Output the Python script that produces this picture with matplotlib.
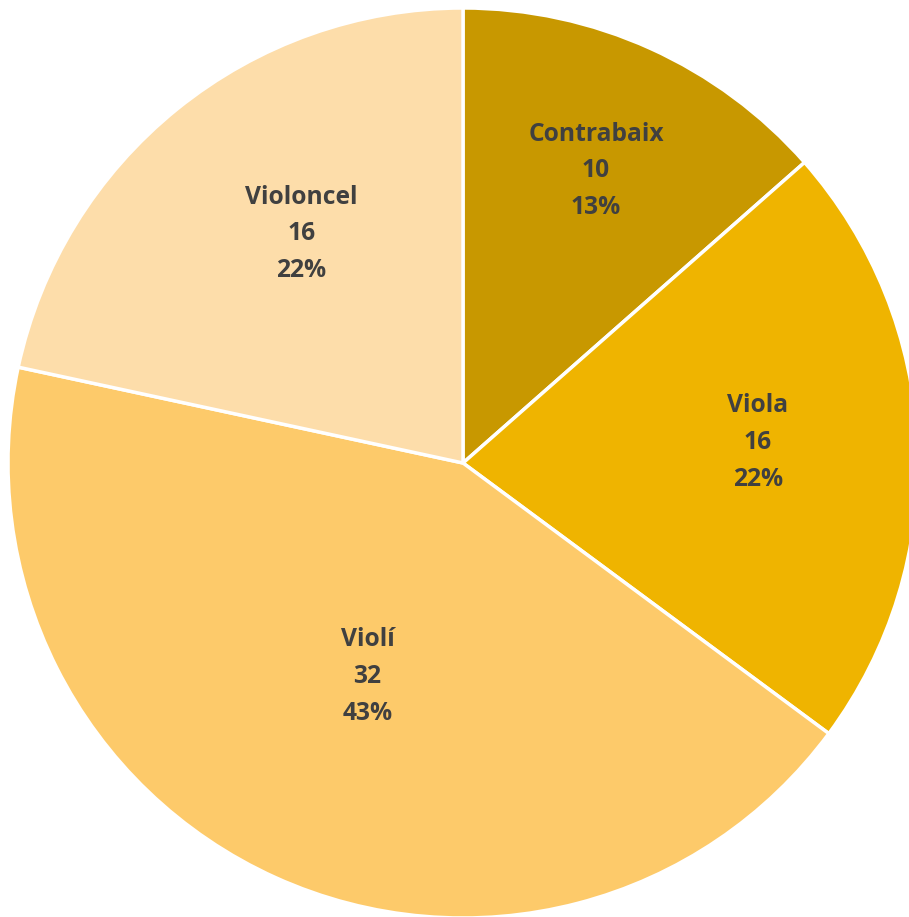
import numpy as np
import matplotlib.pyplot as plt

etiquetes = ['Contrabaix', 'Viola', 'Violí', 'Violoncel']
valors = [10, 16, 32, 16]
colors = ['#C89800', '#EFB400', '#FDCA6A', '#FDDDAA']
# posició de les etiquetes (fracció del radi, desviació d'angle en graus)
dist_etiqueta = [0.71, 0.65, 0.51, 0.62]
desv_angle = [0, 2, 0, -4]


def percentatges(vals):
    # arrodoniment per residu més gran (com fa Excel)
    v = np.array(vals, dtype=float)
    exacte = v / v.sum() * 100
    base = np.floor(exacte).astype(int)
    falta = 100 - base.sum()
    ordre = np.argsort(-(exacte - base))
    base[ordre[:falta]] += 1
    return base


fig = plt.figure(figsize=(9.09, 9.17), dpi=100)
ax = fig.add_axes([0, 0, 1, 1])

wedges, _ = ax.pie(valors, colors=colors, startangle=90, counterclock=False,
                   radius=1.0, center=(0, 0),
                   wedgeprops=dict(edgecolor='white', linewidth=2.5))

pcts = percentatges(valors)
for w, nom, v, p, d, da in zip(wedges, etiquetes, valors, pcts, dist_etiqueta, desv_angle):
    ang = np.deg2rad((w.theta1 + w.theta2) / 2 + da)
    ax.text(d * np.cos(ang), d * np.sin(ang) - 0.005, f'{nom}\n{v}\n{p}%',
            ha='center', va='center', fontsize=17.7, fontweight='bold',
            color='#404040', family=['Open Sans', 'DejaVu Sans'], linespacing=1.62)

# centre ~ (463, 463) px, radi ~ 455 px
r = 455
ax.set_xlim(-463 / r, (909 - 463) / r)
ax.set_ylim(-(917 - 463) / r, 463 / r)
ax.set_aspect('auto')
ax.axis('off')

fig.savefig('out.png', dpi=100)
